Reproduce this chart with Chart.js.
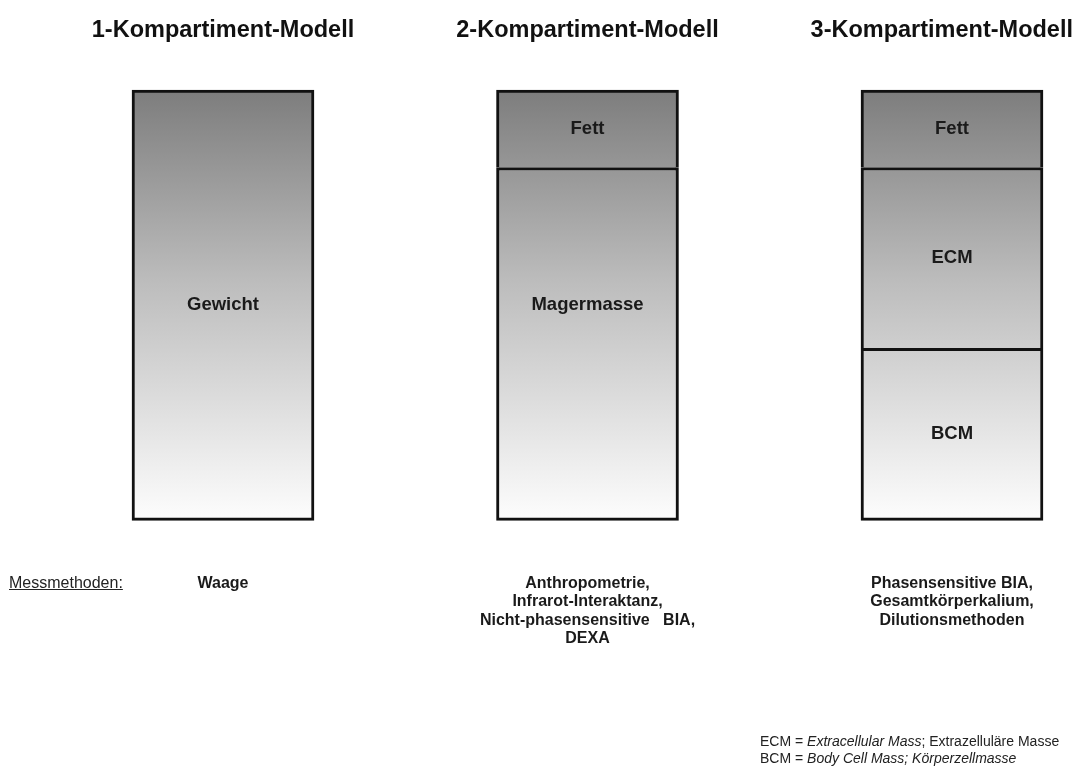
<!DOCTYPE html>
<html>
<head>
<meta charset="utf-8">
<title>Kompartiment-Modelle</title>
<script src="https://cdn.jsdelivr.net/npm/chart.js@4.4.1/dist/chart.umd.min.js"></script>
<style>
    body {
        margin: 0;
        background: #ffffff;
        font-family: 'Liberation Sans', Arial, sans-serif;
    }
    #wrap {
        position: relative;
        width: 1074px;
        height: 767px;
    }
    .note {
        position: absolute;
        color: #222;
    }
    #methods-label {
        left: 9px;
        top: 574px;
        font-size: 16px;
        text-decoration: underline;
    }
    #footnote {
        left: 760px;
        top: 733px;
        font-size: 14px;
        line-height: 17px;
    }
</style>
</head>
<body>
<div id="wrap">
    <canvas id="chart"></canvas>
    <div class="note" id="methods-label">Messmethoden:</div>
    <div class="note" id="footnote">
        ECM = <i>Extracellular Mass</i>; Extrazelluläre Masse<br>
        BCM = <i>Body Cell Mass; Körperzellmasse</i>
    </div>
</div>
<script>
// Models (categories)
const models = ['1-Kompartiment-Modell', '2-Kompartiment-Modell', '3-Kompartiment-Modell'];

// Measuring methods shown below each column
const methods = [
    ['Waage'],
    ['Anthropometrie,', 'Infrarot-Interaktanz,', 'Nicht-phasensensitive   BIA,', 'DEXA'],
    ['Phasensensitive BIA,', 'Gesamtkörperkalium,', 'Dilutionsmethoden']
];

// Segment shares in % of body weight (bottom to top)
const gewicht = [100, null, null];
const magermasse = [null, 82, null];
const bcm = [null, null, 40];
const ecm = [null, null, 42];
const fett = [null, 18, 18];

const FONT = "'Liberation Sans', Arial, sans-serif";

// Gradient spanning whole column height, dark at top, white at bottom
let gradientCache = null;
function columnGradient(context) {
    const chart = context.chart;
    const area = chart.chartArea;
    if (!area) return '#bbbbbb';
    if (gradientCache && gradientCache.h === area.bottom) return gradientCache.g;
    const g = chart.ctx.createLinearGradient(0, area.top, 0, area.bottom);
    g.addColorStop(0, '#7d7d7d');
    g.addColorStop(0.45, '#bdbdbd');
    g.addColorStop(1, '#fdfdfd');
    gradientCache = { h: area.bottom, g };
    return g;
}

const fullBorder = { top: 3, left: 3, right: 3, bottom: 3 };
const openBottom = { top: 3, left: 3, right: 3, bottom: 0 };

function segment(label, data, border, extra = {}) {
    return {
        label,
        data,
        backgroundColor: columnGradient,
        borderColor: '#111111',
        borderWidth: border,
        borderSkipped: false,
        barThickness: 182,
        clip: false,
        ...extra
    };
}

// Don't let edge labels push the chart area inwards
function noEdgePadding(scale) {
    scale.paddingLeft = 0;
    scale.paddingRight = 0;
}

// Writes the segment names inside the bars and the model titles above them
const segmentLabels = {
    id: 'segmentLabels',
    afterDatasetsDraw(chart) {
        const ctx = chart.ctx;
        const area = chart.chartArea;
        ctx.save();
        ctx.font = 'bold 18.5px ' + FONT;
        ctx.fillStyle = '#1a1a1a';
        ctx.textAlign = 'center';
        ctx.textBaseline = 'middle';
        chart.data.datasets.forEach((ds, i) => {
            chart.getDatasetMeta(i).data.forEach((bar, j) => {
                if (ds.data[j] == null) return;
                const y = ds.labelAtMiddle ? (area.top + area.bottom) / 2 : (bar.y + bar.base) / 2;
                ctx.fillText(ds.label, bar.x, y);
            });
        });

        // titles, kept inside the canvas
        ctx.font = 'bold 23.5px ' + FONT;
        ctx.fillStyle = '#111111';
        const xScale = chart.scales.x;
        chart.data.labels.forEach((label, i) => {
            const half = ctx.measureText(label).width / 2;
            let x = xScale.getPixelForValue(i);
            x = Math.min(x, chart.width - 1 - half);
            ctx.fillText(label, x, 31);
        });
        ctx.restore();
    }
};

new Chart(document.getElementById('chart'), {
    type: 'bar',
    data: {
        labels: models,
        datasets: [
            segment('Gewicht', gewicht, fullBorder),
            segment('Magermasse', magermasse, fullBorder, { labelAtMiddle: true }),
            segment('BCM', bcm, fullBorder),
            segment('ECM', ecm, openBottom),
            segment('Fett', fett, openBottom)
        ]
    },
    options: {
        responsive: true,
        maintainAspectRatio: false,
        animation: false,
        layout: {
            padding: { left: 223, right: 122, top: 90, bottom: 119 }
        },
        plugins: {
            legend: { display: false },
            tooltip: { enabled: false }
        },
        scales: {
            x: {
                display: false,
                stacked: true,
                offset: false
            },
            methods: {
                type: 'category',
                position: 'bottom',
                labels: methods,
                offset: false,
                afterFit: noEdgePadding,
                grid: { display: false, tickLength: 54 },
                border: { display: false },
                ticks: {
                    autoSkip: false,
                    maxRotation: 0,
                    padding: 0,
                    color: '#1a1a1a',
                    font: { family: FONT, size: 16, weight: 'bold', lineHeight: 1.15 }
                }
            },
            y: {
                display: false,
                stacked: true,
                min: 0,
                max: 100
            }
        }
    },
    plugins: [segmentLabels]
});
</script>
</body>
</html>
